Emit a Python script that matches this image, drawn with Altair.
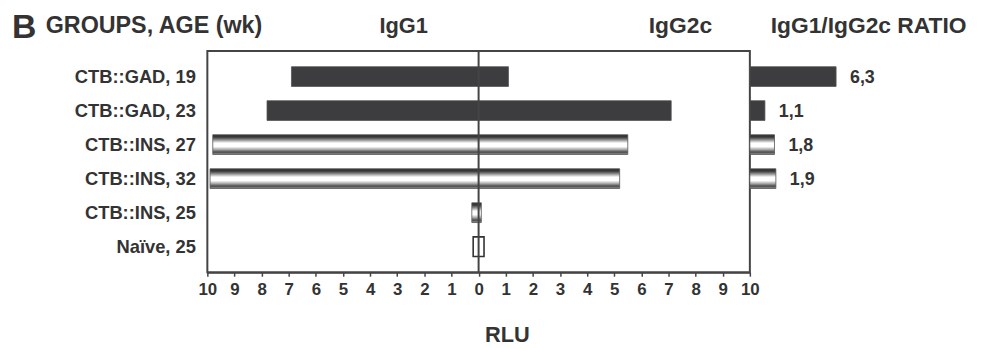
import altair as alt
import pandas as pd

# ---- data ----
groups = ["CTB::GAD, 19", "CTB::GAD, 23", "CTB::INS, 27", "CTB::INS, 32", "CTB::INS, 25", "Naïve, 25"]
igg1 = [6.9, 7.8, 9.8, 9.9, 0.25, 0.2]
igg2c = [1.1, 7.1, 5.5, 5.2, 0.1, 0.2]
ratio = [6.3, 1.1, 1.8, 1.9, None, None]
ratio_labels = ["6,3", "1,1", "1,8", "1,9", "", ""]
style = ["dark", "dark", "striped", "striped", "striped", "open"]
tick_values = list(range(-10, 11))

W, H = 766, 223
MAIN_RANGE = [0, 547]
RATIO_RANGE = [547, 685]
FONT = "Liberation Sans"
TXT = "#333333"
DARK = "#3d3d3f"

df = pd.DataFrame({
    "group": groups,
    "lo": [-v for v in igg1],
    "hi": igg2c,
    "ratio": ratio,
    "rlabel": ratio_labels,
    "style": style,
    "r0": [0] * len(groups),
})

gradient = alt.LinearGradient(
    gradient="linear", x1=0, x2=0, y1=0, y2=1,
    stops=[
        alt.GradientStop(color="#2e2e2e", offset=0.0),
        alt.GradientStop(color="#3a3a3a", offset=0.12),
        alt.GradientStop(color="#8a8a8a", offset=0.25),
        alt.GradientStop(color="#ffffff", offset=0.42),
        alt.GradientStop(color="#ffffff", offset=0.6),
        alt.GradientStop(color="#a8a8a8", offset=0.75),
        alt.GradientStop(color="#4a4a4a", offset=0.88),
        alt.GradientStop(color="#9a9a9a", offset=1.0),
    ],
)

yscale = alt.Scale(paddingInner=0.42, paddingOuter=0.46)
yaxis = alt.Axis(domain=False, ticks=False, labelFontSize=18.5, labelFontWeight="bold",
                 labelColor=TXT, labelPadding=12, labelFont=FONT, labelLimit=300)
yenc = alt.Y("group:N", sort=groups, title=None, scale=yscale, axis=yaxis)

xmain_scale = alt.Scale(domain=[-10, 10], range=MAIN_RANGE, nice=False, zero=False)
xratio_scale = alt.Scale(domain=[0, 10], range=RATIO_RANGE, nice=False, zero=False)
xaxis = alt.Axis(values=tick_values, labelExpr="abs(datum.value)",
                 grid=False, tickSize=4, tickWidth=1.5, tickColor="#444444",
                 domainColor="#444444", domainWidth=2,
                 labelFontSize=17, labelFontWeight="bold", labelColor=TXT,
                 labelPadding=5, labelFlush=False, labelFont=FONT,
                 titleFontSize=22, titleFontWeight="bold", titleColor=TXT,
                 titlePadding=28, titleX=302, titleFont=FONT)

base = alt.Chart(df)

# frame of the main panel
frame = alt.Chart(pd.DataFrame({"lo": [-10], "hi": [10]})).mark_rect(
    fill="white", stroke="#444444", strokeWidth=2
).encode(
    x=alt.X("lo:Q", scale=xmain_scale, axis=xaxis, title="RLU"),
    x2="hi:Q",
    y=alt.value(0),
    y2=alt.value(H),
)


def main_bars(kind, **mark):
    return base.transform_filter(alt.datum.style == kind).mark_bar(**mark).encode(
        x=alt.X("lo:Q", scale=xmain_scale, axis=xaxis, title="RLU"),
        x2="hi:Q",
        y=yenc,
    )


dark_bars = main_bars("dark", color=DARK, stroke="#555555", strokeWidth=0.8)
striped_bars = main_bars("striped", color=gradient, stroke="#555555", strokeWidth=0.8)
open_bars = main_bars("open", fill="white", stroke="#333333", strokeWidth=1.6)

zero_line = alt.Chart(pd.DataFrame({"lo": [0]})).mark_rule(
    color="#444444", strokeWidth=2
).encode(
    x=alt.X("lo:Q", scale=xmain_scale, axis=xaxis, title="RLU"),
    y=alt.value(0),
    y2=alt.value(H),
)

main = alt.layer(frame, dark_bars, striped_bars, open_bars, zero_line)

ratio_base = base.transform_filter("isValid(datum.ratio)")


def ratio_bars(kind, **mark):
    return ratio_base.transform_filter(alt.datum.style == kind).mark_bar(**mark).encode(
        x=alt.X("r0:Q", scale=xratio_scale, axis=None),
        x2="ratio:Q",
        y=yenc,
    )


ratio_dark = ratio_bars("dark", color=DARK, stroke="#555555", strokeWidth=0.8)
ratio_striped = ratio_bars("striped", color=gradient, stroke="#555555", strokeWidth=0.8)
ratio_text = ratio_base.mark_text(
    align="left", baseline="middle", dx=14, dy=1, fontSize=18, fontWeight="bold",
    color=TXT, font=FONT
).encode(
    x=alt.X("ratio:Q", scale=xratio_scale, axis=None),
    y=yenc,
    text="rlabel:N",
)
ratio_panel = alt.layer(ratio_dark, ratio_striped, ratio_text)

one = alt.Data(values=[{}])


def label(txt, x, y, size, align="left"):
    return alt.Chart(one).mark_text(
        text=txt, align=align, baseline="alphabetic", fontSize=size,
        fontWeight="bold", color=TXT, font=FONT
    ).encode(x=alt.value(x), y=alt.value(y))


titles = alt.layer(
    label("B", -197, -13, 34),
    label("GROUPS, AGE (wk)", -163, -18, 23.5),
    label("IgG1", 198, -18, 22, "center"),
    label("IgG2c", 477, -18, 23, "center"),
    label("IgG1/IgG2c RATIO", 568, -18, 23),
)

chart = alt.layer(main, ratio_panel, titles).resolve_scale(x="independent").properties(
    width=W, height=H,
    padding={"left": 201, "top": 42, "right": 7, "bottom": 76},
    autosize=alt.AutoSizeParams(type="none"),
).configure_view(stroke=None).configure_text(font=FONT)

chart.save("out.html", embed_options={"renderer": "svg", "actions": False})
